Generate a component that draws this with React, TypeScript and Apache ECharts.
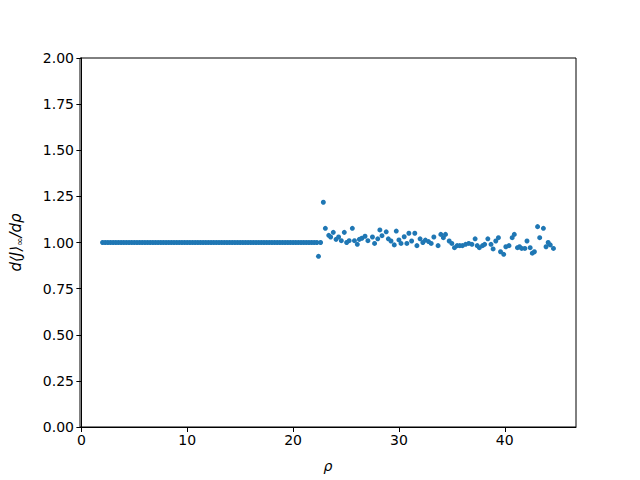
import React, { useEffect, useRef } from "react";
import * as echarts from "echarts";

// rho values of the flat part (step 0.25) and their derivative values
const flatRho = [
  2, 2.25, 2.5, 2.75, 3, 3.25, 3.5, 3.75, 4, 4.25, 4.5, 4.75, 5, 5.25, 5.5, 5.75,
  6, 6.25, 6.5, 6.75, 7, 7.25, 7.5, 7.75, 8, 8.25, 8.5, 8.75, 9, 9.25, 9.5, 9.75,
  10, 10.25, 10.5, 10.75, 11, 11.25, 11.5, 11.75, 12, 12.25, 12.5, 12.75, 13, 13.25, 13.5, 13.75,
  14, 14.25, 14.5, 14.75, 15, 15.25, 15.5, 15.75, 16, 16.25, 16.5, 16.75, 17, 17.25, 17.5, 17.75,
  18, 18.25, 18.5, 18.75, 19, 19.25, 19.5, 19.75, 20, 20.25, 20.5, 20.75, 21, 21.25, 21.5, 21.75,
  22, 22.25,
];
const flatValues = [
  1, 1, 1, 1, 1, 1, 1, 1, 1, 1, 1, 1, 1, 1, 1, 1,
  1, 1, 1, 1, 1, 1, 1, 1, 1, 1, 1, 1, 1, 1, 1, 1,
  1, 1, 1, 1, 1, 1, 1, 1, 1, 1, 1, 1, 1, 1, 1, 1,
  1, 1, 1, 1, 1, 1, 1, 1, 1, 1, 1, 1, 1, 1, 1, 1,
  1, 1, 1, 1, 1, 1, 1, 1, 1, 1, 1, 1, 1, 1, 1, 1,
  1, 1,
];

// rho values of the noisy part and their derivative values
const noisyRho = [
  22.4, 22.6, 22.86, 23.05, 23.37, 23.55, 23.8, 24.06, 24.3, 24.56, 24.84, 25.06, 25.3, 25.6, 25.8,
  26.07, 26.26, 26.5, 26.8, 27.07, 27.5, 27.7, 28.0, 28.2, 28.4, 28.8, 29.0, 29.25, 29.56, 29.75,
  30.0, 30.2, 30.5, 30.75, 30.94, 31.2, 31.5, 31.7, 32.0, 32.26, 32.5, 32.8, 33.05, 33.3, 33.7,
  33.96, 34.2, 34.4, 34.75, 35.0, 35.25, 35.5, 35.75, 36.0, 36.3, 36.6, 36.9, 37.2, 37.4, 37.6,
  37.9, 38.1, 38.4, 38.7, 38.9, 39.15, 39.4, 39.6, 39.9, 40.1, 40.4, 40.7, 40.9, 41.2, 41.4,
  41.6, 41.9, 42.1, 42.4, 42.6, 42.8, 43.1, 43.3, 43.65, 43.9, 44.1, 44.3, 44.6,
];
const noisyValues = [
  0.925, 1.0, 1.218, 1.077, 1.039, 1.03, 1.055, 1.017, 1.03, 1.01, 1.055, 1.0, 1.01, 1.077, 1.01,
  0.99, 1.017, 1.023, 1.034, 1.01, 1.03, 0.995, 1.02, 1.068, 1.037, 1.058, 1.02, 1.008, 0.987, 1.062,
  1.014, 0.995, 1.031, 0.995, 1.05, 1.008, 1.05, 0.983, 1.02, 1.0, 1.013, 1.005, 0.995, 1.03, 0.983,
  1.044, 1.026, 1.044, 1.008, 0.995, 0.972, 0.983, 0.983, 0.983, 0.99, 0.995, 0.99, 1.02, 0.983, 0.972,
  0.983, 0.99, 1.02, 0.99, 0.965, 1.008, 1.026, 0.95, 0.936, 0.977, 0.983, 1.026, 1.044, 0.972, 0.977,
  0.968, 0.968, 1.008, 0.972, 0.942, 0.95, 1.086, 1.026, 1.077, 0.977, 1.0, 0.987, 0.968,
];

const xTicks = [0, 10, 20, 30, 40];

export default function App() {
  const ref = useRef<HTMLDivElement>(null);
  useEffect(() => {
    if (!ref.current) return;
    const chart = echarts.init(ref.current, null, { renderer: "svg" });
    const data: number[][] = [];
    flatRho.forEach((r, i) => data.push([r, flatValues[i]]));
    noisyRho.forEach((r, i) => data.push([r, noisyValues[i]]));
    const font = "DejaVu Sans";
    chart.setOption({
      animation: false,
      backgroundColor: "#ffffff",
      grid: {
        left: 80,
        right: 64,
        top: 58,
        bottom: 53,
        show: true,
        borderColor: "#000",
        borderWidth: 1,
        backgroundColor: "transparent",
      },
      xAxis: {
        type: "value",
        min: -0.13,
        max: 46.73,
        name: "ρ",
        nameLocation: "middle",
        nameGap: 32,
        nameTextStyle: { fontFamily: font, fontSize: 14, fontStyle: "italic", color: "#000" },
        axisLine: { show: true, onZero: false, lineStyle: { color: "#000", width: 1 } },
        axisTick: { show: true, inside: false, length: 5, customValues: xTicks, lineStyle: { color: "#000" } },
        axisLabel: { customValues: xTicks, fontFamily: font, fontSize: 14, color: "#000", margin: 6 },
        splitLine: { show: false },
      },
      yAxis: {
        type: "value",
        min: 0,
        max: 2,
        interval: 0.25,
        name: "{i|d⟨J⟩}{s|∞}{i|/dρ}",
        nameLocation: "middle",
        nameGap: 56,
        nameRotate: 90,
        nameTextStyle: {
          color: "#000",
          rich: {
            i: { fontFamily: font, fontSize: 15, fontStyle: "italic", color: "#000" },
            s: { fontFamily: font, fontSize: 10, color: "#000", verticalAlign: "bottom", padding: [6, 0, 0, 0] },
          },
        },
        axisLine: { show: true, lineStyle: { color: "#000", width: 1 } },
        axisTick: { show: true, inside: false, length: 5, lineStyle: { color: "#000" } },
        axisLabel: {
          fontFamily: font,
          fontSize: 14,
          color: "#000",
          margin: 6,
          formatter: (v: number) => v.toFixed(2),
        },
        splitLine: { show: false },
      },
      series: [
        {
          type: "scatter",
          data,
          symbol: "circle",
          symbolSize: 5,
          itemStyle: { color: "#1f77b4", opacity: 1 },
        },
      ],
    });
    return () => chart.dispose();
  }, []);
  return (
    <div
      ref={ref}
      style={{ position: "fixed", left: 0, top: 0, width: 640, height: 480 }}
    />
  );
}
